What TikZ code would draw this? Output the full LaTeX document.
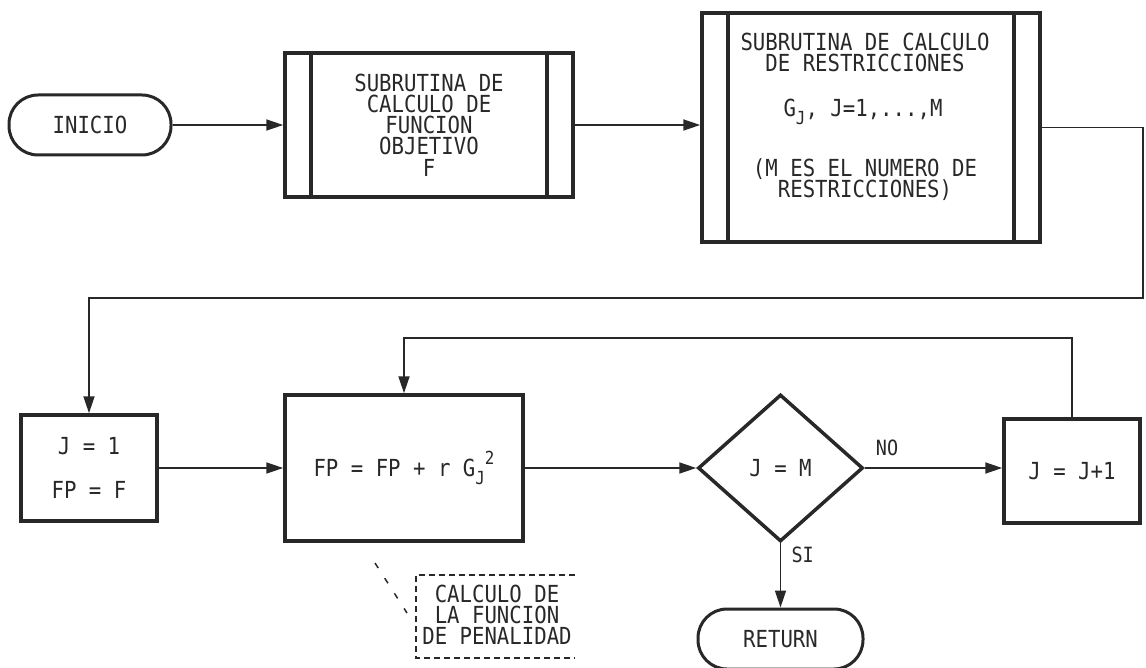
\documentclass[tikz,border=0pt]{standalone}
\usepackage{fontspec}
\setmonofont[FakeStretch=0.88]{DejaVu Sans Mono}
\usetikzlibrary{shapes.geometric,arrows.meta}
\definecolor{ink}{RGB}{40,40,40}
\newcommand{\lowJ}{\raisebox{-8pt}{\fontsize{18}{18}\selectfont J}}
\newcommand{\highTwo}{\raisebox{12pt}{\fontsize{18}{18}\selectfont 2}}
\begin{document}
\begin{tikzpicture}[x=1pt,y=-1pt,
  every node/.style={font=\ttfamily\fontsize{23.5}{21.2}\selectfont, text=ink},
  lbl/.style={font=\ttfamily\fontsize{21}{21}\selectfont},
  fcbox/.style={draw=ink, line width=3.5pt, inner sep=0pt, align=center},
  subr/.style={fcbox, path picture={
     \draw[ink, line width=3.5pt]
       ([xshift=26pt]path picture bounding box.north west) -- ([xshift=26pt]path picture bounding box.south west)
       ([xshift=-26pt]path picture bounding box.north east) -- ([xshift=-26pt]path picture bounding box.south east);}},
  term/.style={draw=ink, line width=3pt, rounded corners=29pt, minimum height=60pt, inner sep=0pt},
  dec/.style={diamond, draw=ink, line width=3.5pt, minimum width=165pt, minimum height=147pt, inner sep=0pt},
  flow/.style={draw=ink, line width=1.8pt, -{Triangle[length=17pt,width=11pt]}},
  noteline/.style={draw=ink, line width=1.5pt, dash pattern=on 6pt off 4pt},
]
\useasboundingbox (0,0) rectangle (1146,668);

% nodes
\node[term, minimum width=162pt] (inicio) at (90,125) {INICIO};
\node[subr, minimum width=288pt, minimum height=144pt] (sub1) at (429,125) {SUBRUTINA DE\\CALCULO DE\\FUNCION\\OBJETIVO\\F};
\node[subr, minimum width=338pt, minimum height=229pt] (sub2) at (871,127.5) {};
\node[align=center] (sub2a) at (865,52.5) {SUBRUTINA DE CALCULO\\DE RESTRICCIONES};
\node[anchor=base] (sub2b) at (863,116.5) {G\lowJ, J=1,...,M};
\node[align=center] (sub2c) at (865,180) {(M ES EL NUMERO DE\\RESTRICCIONES)};

\node[fcbox, minimum width=136pt, minimum height=106pt] (j1) at (89,468) {J = 1\\[22pt]FP = F};
\node[fcbox, minimum width=238pt, minimum height=146pt] (fp) at (404,468) {FP = FP + r G\lowJ\highTwo};
\node[dec] (dia) at (780.5,468) {J = M};
\node[fcbox, minimum width=136pt, minimum height=104pt] (jj) at (1072,471) {J = J+1};
\node[term, minimum width=165pt] (ret) at (780.5,639) {RETURN};

\node[lbl] (no) at (887,448) {NO};
\node[lbl, anchor=west] (si) at (788,555) {SI};
\node[align=center] (cnote) at (497,615) {CALCULO DE\\LA FUNCION\\DE PENALIDAD};

% connectors
\draw[flow] (inicio.east) -- (sub1.west);
\draw[flow] (sub1.east) -- (sub1.east -| sub2.west);
\coordinate (rt) at (1143,298);
\draw[flow] (sub2.east) -| (rt) -- (rt -| j1.north) -- (j1.north);
\draw[flow] (j1.east) -- (fp.west);
\draw[flow] (fp.east) -- (dia.west);
\draw[flow] (dia.east) -- (dia.east -| jj.west);
\coordinate (loopy) at (0,338);
\draw[flow] (jj.north) -- (jj.north |- loopy) -- (fp.north |- loopy) -- (fp.north);
\draw[flow] (dia.south) -- (ret.north);

% callout
\coordinate (ca) at (575,575);
\coordinate (cb) at (416,575);
\coordinate (cc) at (416,658);
\coordinate (cd) at (575,658);
\draw[noteline] (ca) -- (cb) -- (cc) -- (cd);
\coordinate (la) at (375,563);
\coordinate (lb) at (407,613);
\draw[ink, line width=1.5pt, dash pattern=on 6pt off 12pt] (la) -- (lb);
\end{tikzpicture}
\end{document}
